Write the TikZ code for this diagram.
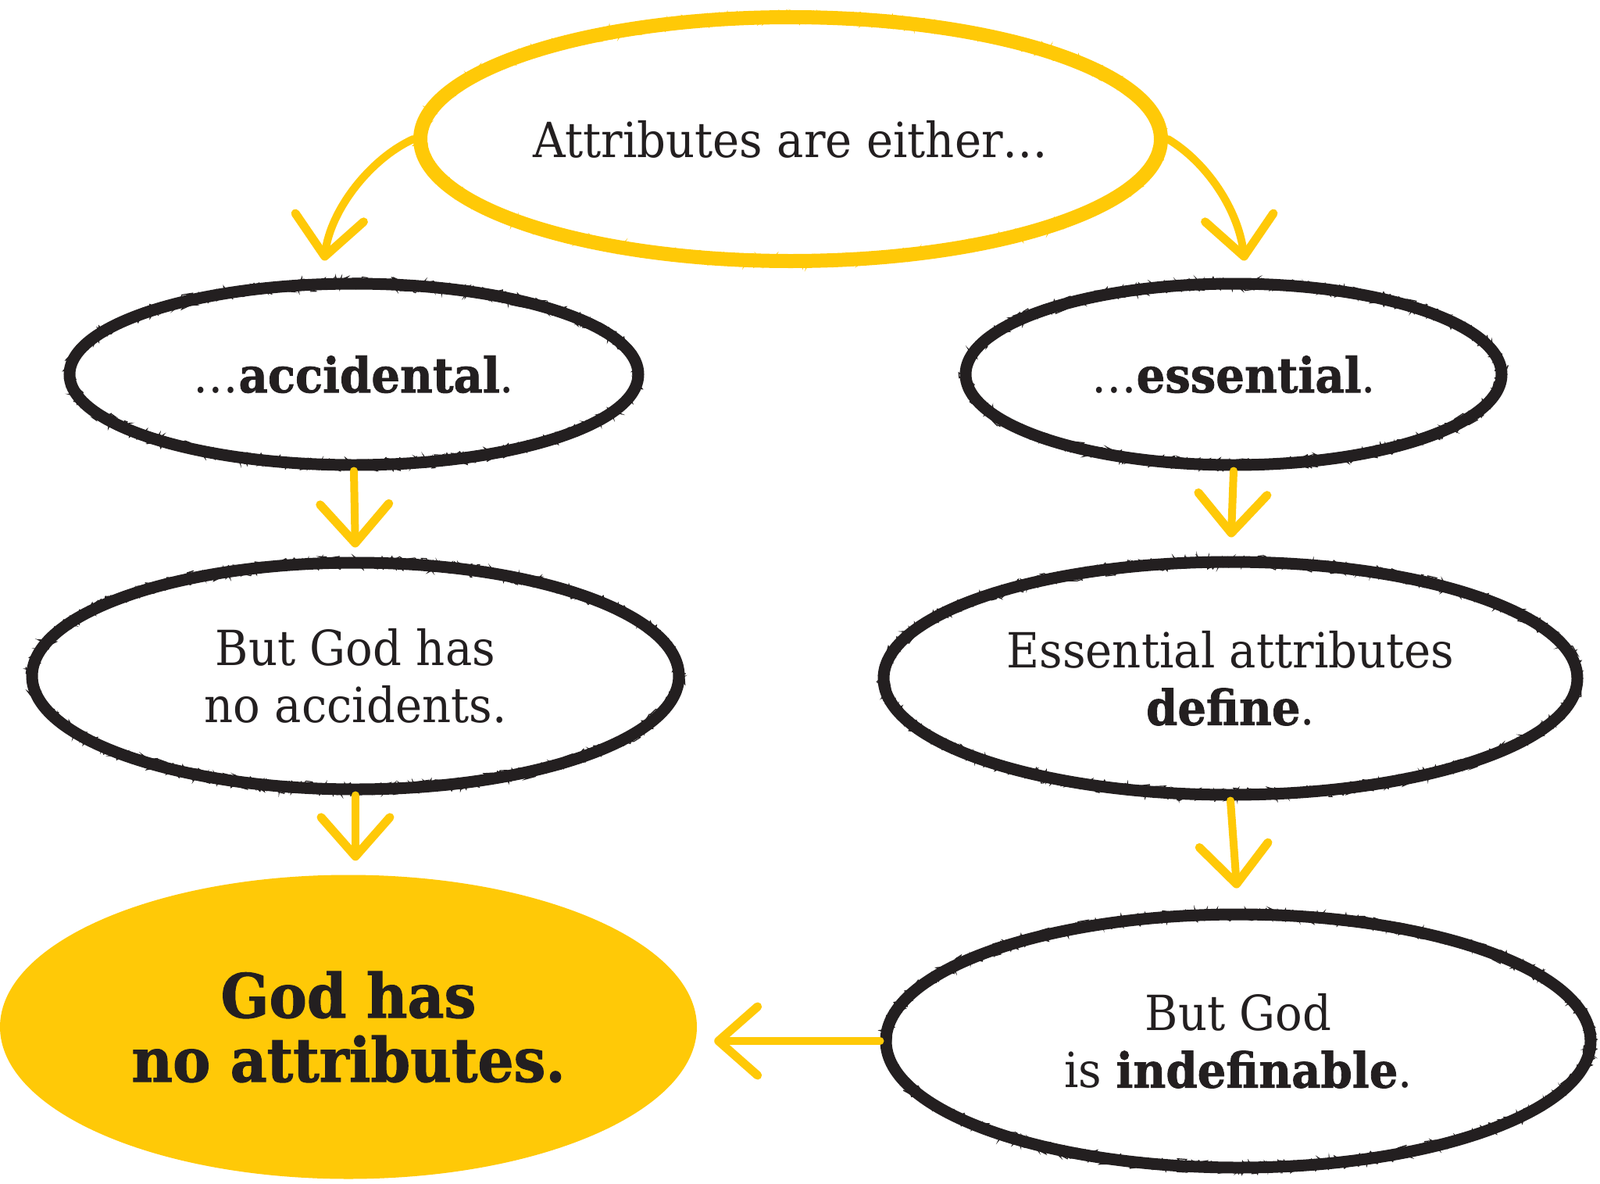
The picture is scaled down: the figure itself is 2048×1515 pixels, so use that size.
\documentclass[tikz,border=0pt]{standalone}
\usepackage{fontspec}
\setmainfont{DejaVu Serif}[FakeStretch=0.93, BoldFeatures={FakeBold=1.3}]
\usetikzlibrary{shapes.geometric,arrows.meta,decorations.pathmorphing,calc}
\definecolor{ink}{HTML}{231F20}
\definecolor{gold}{HTML}{FFC907}
\begin{document}
\begin{tikzpicture}[x=1pt,y=-1pt,
  rough/.style={postaction={draw=#1,line width=1.2pt,decorate,decoration={random steps,segment length=2pt,amplitude=9pt}}},
  bub/.style={ellipse, draw=ink, line width=15pt, inner sep=0pt, align=center, text=ink,
     font=\fontsize{62}{73}\selectfont, rough=ink},
  topbub/.style={ellipse, draw=gold, line width=18pt, inner sep=0pt, align=center, text=ink,
     font=\fontsize{62}{73}\selectfont, rough=gold},
  goal/.style={ellipse, fill=gold, inner sep=0pt, align=center, text=ink,
     font=\fontsize{78}{82}\selectfont\bfseries},
  arr/.style={draw=gold, line width=10pt, line cap=round,
     -{Straight Barb[length=50pt,width=88pt,line width=11pt,round]}}
]
\useasboundingbox[fill=white] (0,0) rectangle (2048,1515);

\node[topbub, minimum width=948pt, minimum height=312pt] (top) at (1012,178) {Attributes are either\ldots};
\node[bub, minimum width=728pt, minimum height=232pt] (acc) at (453,479) {\ldots\textbf{accidental}.};
\node[bub, minimum width=686pt, minimum height=232pt] (ess) at (1579,479) {\ldots\textbf{essential}.};
\node[bub, minimum width=828pt, minimum height=290pt] (noacc) at (455,865) {But God has\\no accidents.};
\node[bub, minimum width=888pt, minimum height=298pt] (def) at (1575,868) {Essential attributes\\\textbf{define}.};
\node[goal, minimum width=892pt, minimum height=389pt] (god) at (446,1314) {God has\\no attributes.};
\node[bub, minimum width=902pt, minimum height=324pt] (indef) at (1585,1332) {But God\\is \textbf{indefinable}.};

\draw[arr] (top.west) .. controls +(-55,25) and +(8,-65) .. ([xshift=-38pt,yshift=22pt]acc.north);
\draw[arr] (top.east) .. controls +(50,30) and +(-8,-65) .. ([xshift=14pt,yshift=22pt]ess.north);
\draw[arr, shorten >=12pt] (acc.south) -- (noacc.north);
\draw[arr, shorten >=24pt] (ess.south) -- (def.north);
\draw[arr, shorten >=18pt] (noacc.south) -- (noacc.south |- god.north);
\draw[arr, shorten >=26pt] (def.south) -- (indef.north);
\draw[arr, shorten >=22pt] (indef.west) -- (god.east |- indef.west);
\end{tikzpicture}
\end{document}
